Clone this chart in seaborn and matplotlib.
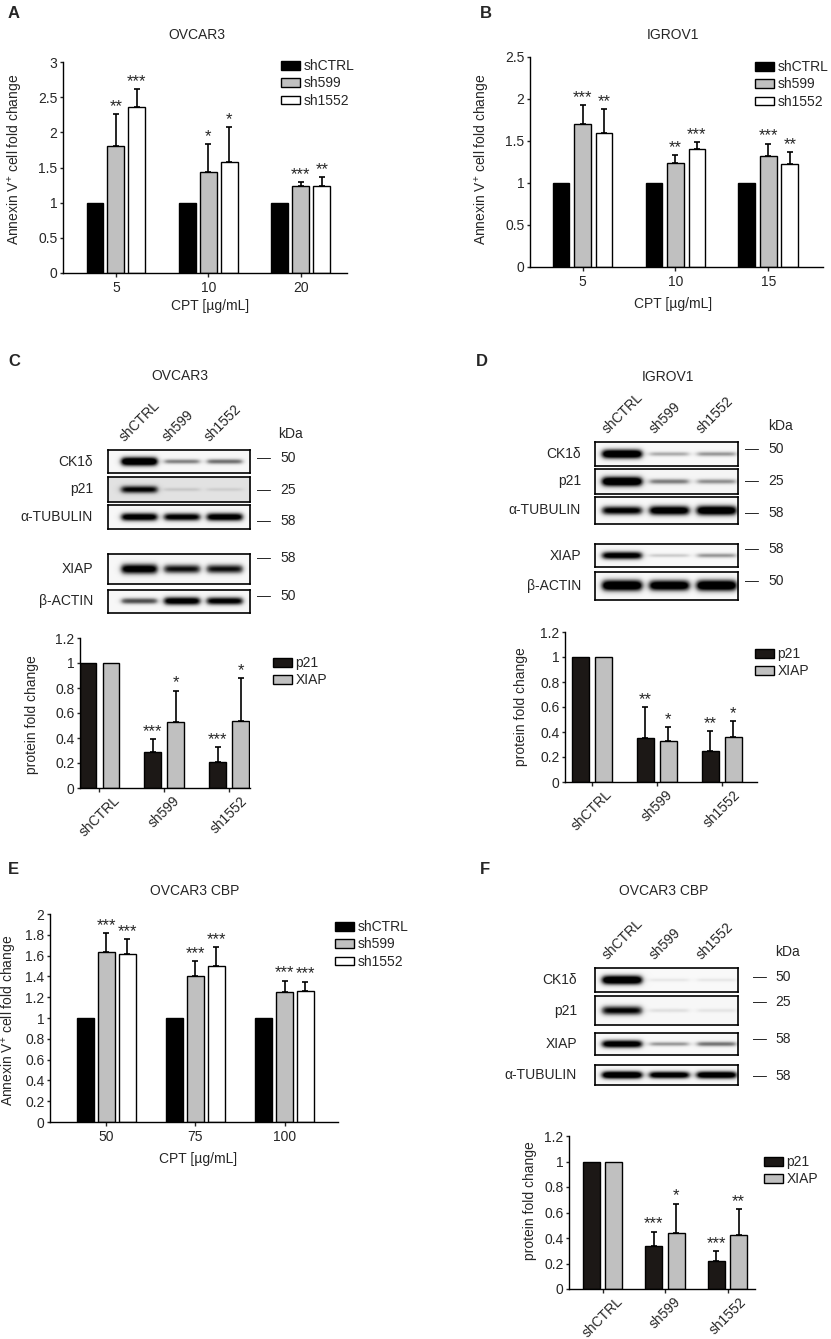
import numpy as np
import pandas as pd
import matplotlib
matplotlib.use("Agg")
import matplotlib.pyplot as plt
import matplotlib.patches as mpatches
from matplotlib.ticker import FuncFormatter
import seaborn as sns

# ---------------- data ----------------
lines = ["shCTRL", "sh599", "sh1552"]
prots = ["p21", "XIAP"]
knock = ["shCTRL", "sh599", "sh1552"]

# A - OVCAR3 annexin V
a_dose = ["5", "10", "20"]
a_mean = {"shCTRL": [1, 1, 1], "sh599": [1.81, 1.43, 1.23], "sh1552": [2.36, 1.58, 1.24]}
a_err = {"shCTRL": [0, 0, 0], "sh599": [0.45, 0.40, 0.06], "sh1552": [0.25, 0.49, 0.13]}
a_star = {"shCTRL": ["", "", ""], "sh599": ["**", "*", "***"], "sh1552": ["***", "*", "**"]}

# B - IGROV1 annexin V
b_dose = ["5", "10", "15"]
b_mean = {"shCTRL": [1, 1, 1], "sh599": [1.70, 1.24, 1.32], "sh1552": [1.60, 1.41, 1.23]}
b_err = {"shCTRL": [0, 0, 0], "sh599": [0.23, 0.09, 0.15], "sh1552": [0.28, 0.08, 0.14]}
b_star = {"shCTRL": ["", "", ""], "sh599": ["***", "**", "***"], "sh1552": ["**", "***", "**"]}

# C - OVCAR3 protein quantification
c_mean = {"p21": [1, 0.29, 0.21], "XIAP": [1, 0.53, 0.54]}
c_err = {"p21": [0, 0.10, 0.12], "XIAP": [0, 0.25, 0.34]}
c_star = {"p21": ["", "***", "***"], "XIAP": ["", "*", "*"]}

# D - IGROV1 protein quantification
d_mean = {"p21": [1, 0.35, 0.25], "XIAP": [1, 0.33, 0.36]}
d_err = {"p21": [0, 0.25, 0.16], "XIAP": [0, 0.11, 0.13]}
d_star = {"p21": ["", "**", "**"], "XIAP": ["", "*", "*"]}

# E - OVCAR3 CBP annexin V
e_dose = ["50", "75", "100"]
e_mean = {"shCTRL": [1, 1, 1], "sh599": [1.63, 1.40, 1.25], "sh1552": [1.62, 1.50, 1.26]}
e_err = {"shCTRL": [0, 0, 0], "sh599": [0.19, 0.15, 0.11], "sh1552": [0.14, 0.18, 0.09]}
e_star = {"shCTRL": ["", "", ""], "sh599": ["***", "***", "***"], "sh1552": ["***", "***", "***"]}

# F - OVCAR3 CBP protein quantification
f_mean = {"p21": [1, 0.34, 0.22], "XIAP": [1, 0.44, 0.42]}
f_err = {"p21": [0, 0.11, 0.08], "XIAP": [0, 0.23, 0.21]}
f_star = {"p21": ["", "***", "***"], "XIAP": ["", "*", "**"]}

# western blots: band darkness per lane
c_rows = ["CK1δ", "p21", "α-TUBULIN", "XIAP", "β-ACTIN"]
c_bands = [[1.0, 0.4, 0.45], [0.65, 0.1, 0.08], [0.85, 0.8, 0.85], [0.85, 0.7, 0.7], [0.55, 0.85, 0.8]]
c_kda = ["50", "25", "58", "58", "50"]
d_rows = ["CK1δ", "p21", "α-TUBULIN", "XIAP", "β-ACTIN"]
d_bands = [[1.0, 0.3, 0.35], [1.0, 0.4, 0.35], [0.8, 0.9, 0.95], [0.85, 0.2, 0.35], [1.0, 0.95, 1.0]]
d_kda = ["50", "25", "58", "58", "50"]
f_rows = ["CK1δ", "p21", "XIAP", "α-TUBULIN"]
f_bands = [[1.0, 0.1, 0.1], [0.75, 0.12, 0.1], [0.9, 0.35, 0.45], [1.0, 0.9, 0.95]]
f_kda = ["50", "25", "58", "58"]

line_col = {"shCTRL": "#000000", "sh599": "#c0c0c0", "sh1552": "#ffffff"}
prot_col = {"p21": "#1c1816", "XIAP": "#c0c0c0"}

# ---------------- style ----------------
sns.set_style("ticks")
plt.rcParams["font.family"] = ["Liberation Sans", "DejaVu Sans"]
plt.rcParams["mathtext.fontset"] = "custom"
plt.rcParams["mathtext.rm"] = "Liberation Sans"
plt.rcParams["mathtext.default"] = "regular"
plt.rcParams["font.size"] = 10

W, H = 831, 1339
fig = plt.figure(figsize=(W / 100, H / 100), dpi=100)


def fx(x):
    return x / W


def fy(y):
    return 1 - y / H


def rect(x0, y0, x1, y1):
    return [x0 / W, 1 - y1 / H, (x1 - x0) / W, (y1 - y0) / H]


def bar_panel(box, groups, hues, means, errs, stars, colors, width, gap, xlim,
              ytop, ystep, ylab, ylab_xy, leg_xy, xlab=None, xlab_xy=None, rot=0):
    ax = fig.add_axes(rect(*box))
    rows = []
    for h in hues:
        for g, m in zip(groups, means[h]):
            rows.append({"g": g, "h": h, "v": m})
    df = pd.DataFrame(rows)
    sns.barplot(data=df, x="g", y="v", hue="h", order=groups, hue_order=hues,
                palette=colors, saturation=1, edgecolor="black", linewidth=1,
                width=width, gap=gap, errorbar=None, legend=False, ax=ax)
    for h, cont in zip(hues, ax.containers):
        for bar, m, e, s in zip(cont, means[h], errs[h], stars[h]):
            xc = bar.get_x() + bar.get_width() / 2
            if e > 0:
                ax.errorbar(xc, m, yerr=[[0], [e]], fmt="none", ecolor="black",
                            elinewidth=1.2, capsize=2.5, capthick=1.2)
            if s:
                ax.text(xc, m + e, s, ha="center", va="bottom", fontsize=12)
    ax.set_xlim(*xlim)
    ax.set_ylim(0, ytop)
    ax.set_yticks(np.arange(0, ytop + 1e-9, ystep))
    ax.yaxis.set_major_formatter(FuncFormatter(lambda v, p: f"{round(v, 2):g}"))
    sns.despine(ax=ax)
    for s in ["left", "bottom"]:
        ax.spines[s].set_linewidth(1)
        ax.spines[s].set_color("black")
    ax.tick_params(axis="y", length=2.5, width=1, pad=1.5, labelsize=10)
    ax.tick_params(axis="x", length=3, width=1, pad=3, labelsize=10)
    if rot:
        ax.tick_params(axis="x", rotation=rot, pad=1)
    ax.set_ylabel(ylab, fontsize=10)
    ax.yaxis.set_label_coords(*ylab_xy)
    if xlab:
        ax.set_xlabel(xlab, fontsize=10)
        ax.xaxis.set_label_coords(*xlab_xy)
    else:
        ax.set_xlabel("")
    handles = [mpatches.Patch(facecolor=colors[h], edgecolor="black", linewidth=1) for h in hues]
    ax.legend(handles, hues, loc="upper left", bbox_to_anchor=(fx(leg_xy[0]), fy(leg_xy[1])),
              bbox_transform=fig.transFigure, frameon=False, borderpad=0, borderaxespad=0,
              handlelength=1.4, handleheight=0.6, handletextpad=0.2, labelspacing=0.25,
              fontsize=10)
    return ax


def blot_panel(xr, strips, names, bands, kdas, kda_y, ext, bgs, thick,
               name_x, dash_x, num_x, kda_xy):
    for k, ((y0, y1), name, lev, bg) in enumerate(zip(strips, names, bands, bgs)):
        ax = fig.add_axes(rect(xr[0], y0, xr[1], y1))
        yy = np.linspace(0, 1, 80)[:, None]
        xx = np.linspace(ext[0], ext[1], 400)[None, :]
        img = np.full((80, 400), bg)
        for i, a in enumerate(lev):
            lane = 1 / (1 + np.exp((np.abs(xx - i) - 0.42) / 0.04))
            band = np.exp(-((yy - 0.5) / (thick * (0.35 + 0.85 * a))) ** 2)
            img = img + 1.3 * a * lane * band
        ax.imshow(np.clip(img, 0, 1), cmap="Greys", vmin=0, vmax=1,
                  extent=(ext[0], ext[1], 0, 1), aspect="auto", interpolation="bilinear")
        ax.set_xlim(*ext)
        ax.set_ylim(0, 1)
        ax.set_xticks([])
        ax.set_yticks([])
        for s in ax.spines.values():
            s.set_visible(True)
            s.set_linewidth(1.2)
            s.set_color("black")
        fig.text(fx(name_x), fy((y0 + y1) / 2), name, ha="right", va="center", fontsize=10)
        if k == 0:
            for i, ln in enumerate(knock):
                ax.annotate(ln, xy=(i, 1), xycoords=("data", "axes fraction"),
                            xytext=(-12, 6), textcoords="offset pixels", rotation=45,
                            rotation_mode="anchor", ha="left", va="bottom", fontsize=10)
    for kd, yk in zip(kdas, kda_y):
        fig.text(fx(dash_x), fy(yk), "—", ha="left", va="center", fontsize=10)
        fig.text(fx(num_x), fy(yk), kd, ha="left", va="center", fontsize=10)
    fig.text(fx(kda_xy[0]), fy(kda_xy[1]), "kDa", ha="left", va="center", fontsize=10)


annexin = r"Annexin V$^{+}$ cell fold change"
cpt = "CPT [µg/mL]"

# A
bar_panel((63, 62, 347, 273), a_dose, lines, a_mean, a_err, a_star, line_col,
          0.68, 0.19, (-0.573, 2.50), 3, 0.5, annexin, (-38 / 284, 0.54), (281, 59),
          cpt, (0.518, -26 / 211))
# B
bar_panel((530, 57, 823, 267), b_dose, lines, b_mean, b_err, b_star, line_col,
          0.696, 0.23, (-0.566, 2.59), 2.5, 0.5, annexin, (-38 / 293, 0.51), (755, 60),
          cpt, (0.488, -30 / 210))
# C
bar_panel((80, 638, 250, 788), knock, prots, c_mean, c_err, c_star, prot_col,
          0.708, 0.27, (-0.3, 2.32), 1.2, 0.2, "protein fold change", (-41 / 170, 0.49),
          (273, 656), rot=45)
# D
bar_panel((565, 632, 757, 782), knock, prots, d_mean, d_err, d_star, prot_col,
          0.708, 0.28, (-0.415, 2.54), 1.2, 0.2, "protein fold change", (-37 / 192, 0.5),
          (755, 647), rot=45)
# E
bar_panel((50, 914, 338, 1122), e_dose, lines, e_mean, e_err, e_star, line_col,
          0.705, 0.2, (-0.63, 2.6), 2, 0.2, annexin, (-31 / 288, 0.49), (335, 920),
          cpt, (0.514, -30 / 208))
# F
bar_panel((569, 1136, 755, 1289), knock, prots, f_mean, f_err, f_star, prot_col,
          0.714, 0.25, (-0.536, 2.44), 1.2, 0.2, "protein fold change", (-32 / 186, 0.575),
          (764, 1155), rot=45)

# blots
blot_panel((108, 250), [(450, 473), (477, 502), (505, 529), (554, 584), (590, 613)],
           c_rows, c_bands, c_kda, [458, 490, 521, 558, 596], (-0.73, 2.61),
           [0.06, 0.2, 0.06, 0.06, 0.06], 0.17, 93, 257, 280, (278, 434))
blot_panel((595, 738), [(442, 466), (469, 494), (497, 524), (544, 567), (572, 600)],
           d_rows, d_bands, d_kda, [449, 481, 513, 549, 581], (-0.57, 2.47),
           [0.05, 0.08, 0.05, 0.05, 0.05], 0.17, 581, 745, 768, (768, 426))
blot_panel((595, 738), [(968, 992), (996, 1025), (1033, 1055), (1065, 1085)],
           f_rows, f_bands, f_kda, [977, 1002, 1039, 1076], (-0.57, 2.47),
           [0.05, 0.06, 0.05, 0.05], 0.17, 577, 753, 775, (775, 952))

# titles and panel letters
for t, x, y in [("OVCAR3", 197, 35), ("IGROV1", 673, 35), ("OVCAR3", 180, 376),
                ("IGROV1", 668, 377), ("OVCAR3 CBP", 195, 891), ("OVCAR3 CBP", 664, 891)]:
    fig.text(fx(x), fy(y), t, ha="center", va="center", fontsize=10)
for t, x, y in [("A", 8, 14), ("B", 480, 14), ("C", 8, 361), ("D", 476, 361),
                ("E", 8, 870), ("F", 480, 870)]:
    fig.text(fx(x), fy(y), t, ha="left", va="center", fontsize=12, fontweight="bold")

fig.savefig("out.png", dpi=100)
